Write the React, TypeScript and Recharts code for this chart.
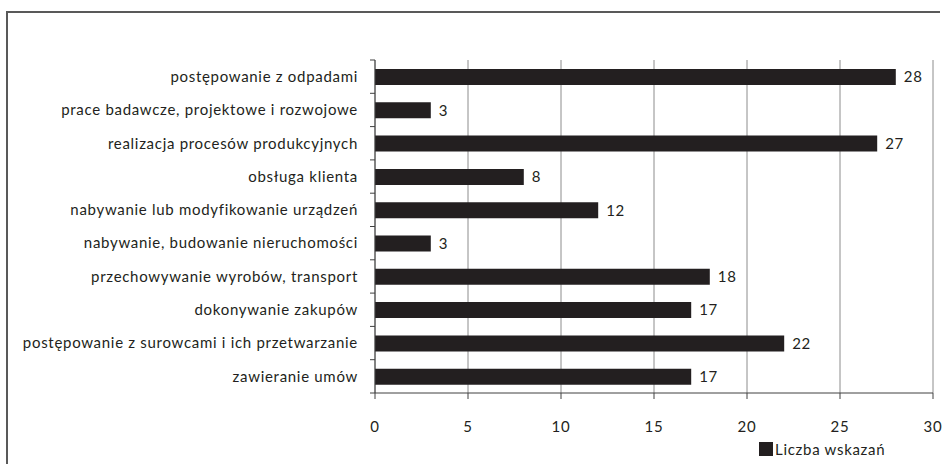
import React from "react";
import {
  BarChart,
  Bar,
  XAxis,
  YAxis,
  CartesianGrid,
  Legend,
  LabelList,
} from "recharts";

const categories = [
  "postępowanie z odpadami",
  "prace badawcze, projektowe i rozwojowe",
  "realizacja procesów produkcyjnych",
  "obsługa klienta",
  "nabywanie lub modyfikowanie urządzeń",
  "nabywanie, budowanie nieruchomości",
  "przechowywanie wyrobów, transport",
  "dokonywanie zakupów",
  "postępowanie z surowcami i ich przetwarzanie",
  "zawieranie umów",
];

const counts = [28, 3, 27, 8, 12, 3, 18, 17, 22, 17];

const xTicks = [0, 5, 10, 15, 20, 25, 30];

const seriesName = "Liczba wskazań";

const data = categories.map((name, i) => ({ name, value: counts[i] }));

const FONT = "Lato, 'Noto Sans', sans-serif";
const FS = 15;
const LS = 0.7;
const INK = "#231f20";

// plot area (px)
const TOP = 60;
const BOTTOM = 71;
const HEIGHT = 464;
const BAND = (HEIGHT - TOP - BOTTOM) / categories.length;

// Excel-style category ticks: marks sit between categories, not at centres
function CategoryTick(props: any) {
  const { x, y, payload, index } = props;
  const axisX = x + 12 + 5;
  return (
    <g>
      <text
        x={x}
        y={y}
        dy="0.35em"
        textAnchor="end"
        fontFamily={FONT}
        fontSize={FS}
        letterSpacing={LS}
        fill={INK}
      >
        {payload.value}
      </text>
      <line x1={axisX - 5} x2={axisX} y1={y - BAND / 2} y2={y - BAND / 2} stroke="#404040" />
      {index === categories.length - 1 && (
        <line x1={axisX - 5} x2={axisX} y1={y + BAND / 2} y2={y + BAND / 2} stroke="#404040" />
      )}
    </g>
  );
}

function LegendBox(props: any) {
  const item = props.payload && props.payload[0];
  return (
    <div style={{ display: "flex", alignItems: "center", fontFamily: FONT, fontSize: FS, letterSpacing: LS, color: INK }}>
      <span style={{ display: "inline-block", width: 14, height: 14, background: INK, marginRight: 2 }} />
      <span>{item ? item.value : seriesName}</span>
    </div>
  );
}

export default function App() {
  return (
    <div style={{ position: "relative", width: 945, height: 464, background: "#fff", overflow: "hidden" }}>
      <style>{"html,body{margin:0;padding:0;overflow:hidden}"}</style>
      {/* frame: only left and top edges show in the crop */}
      <div style={{ position: "absolute", left: 6, top: 11, width: 934, height: 2, background: "#595959" }} />
      <div style={{ position: "absolute", left: 6, top: 11, width: 2, height: 453, background: "#595959" }} />
      <div style={{ position: "absolute", left: 0, top: 0 }}>
        <BarChart
          width={945}
          height={HEIGHT}
          data={data}
          layout="vertical"
          margin={{ top: TOP, right: 12, bottom: BOTTOM - 40, left: 0 }}
          barSize={16}
        >
          <CartesianGrid horizontal={false} vertical stroke="#8c8c8c" strokeWidth={1} />
          <XAxis
            type="number"
            domain={[0, 30]}
            ticks={xTicks}
            height={40}
            tickSize={6}
            tickMargin={22}
            axisLine={{ stroke: "#404040" }}
            tickLine={{ stroke: "#404040" }}
            tick={{ fontFamily: FONT, fontSize: FS, letterSpacing: LS, fill: INK }}
          />
          <YAxis
            type="category"
            dataKey="name"
            width={375}
            tickSize={5}
            tickMargin={12}
            tickLine={false}
            axisLine={{ stroke: "#404040" }}
            interval={0}
            tick={<CategoryTick />}
          />
          <Legend
            layout="horizontal"
            verticalAlign="middle"
            align="center"
            content={<LegendBox />}
            wrapperStyle={{ left: 759, top: 440, width: 180, height: 20 }}
          />
          <Bar dataKey="value" name={seriesName} fill={INK} isAnimationActive={false}>
            <LabelList
              dataKey="value"
              position="right"
              offset={8}
              fontFamily={FONT}
              fontSize={FS}
              letterSpacing={LS}
              fill={INK}
            />
          </Bar>
        </BarChart>
      </div>
    </div>
  );
}
